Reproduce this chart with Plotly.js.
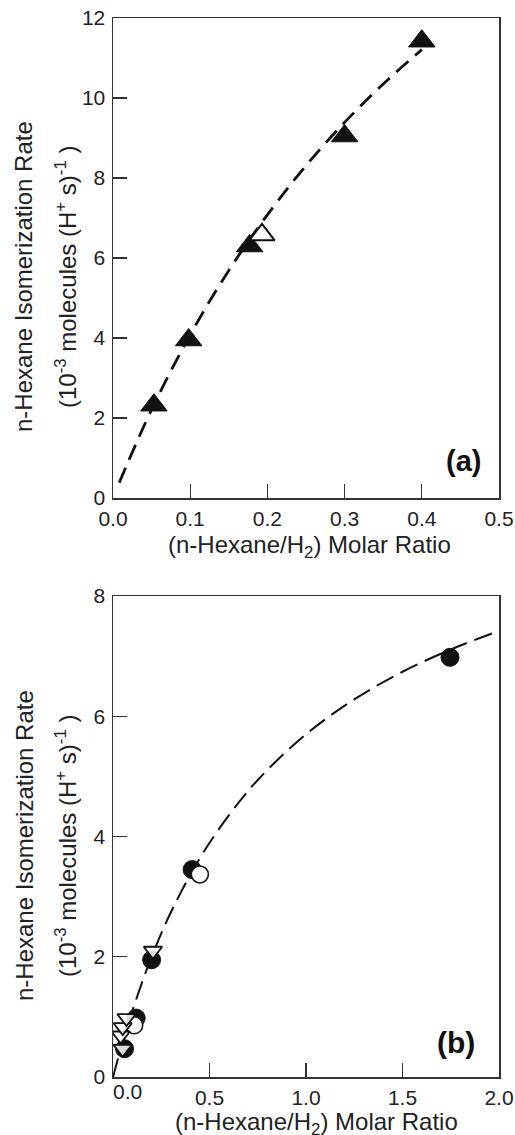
<!DOCTYPE html>
<html>
<head>
<meta charset="utf-8">
<script src="https://cdn.plot.ly/plotly-3.0.1.min.js"></script>
<style>
  html, body { margin: 0; padding: 0; background: #fff; }
  #chart { width: 515px; height: 1135px; }
</style>
</head>
<body>
<div id="chart"></div>
<script>
// ---------- Panel (a) data ----------
var aFilledX = [0.053, 0.098, 0.177, 0.300, 0.400];
var aFilledY = [2.32, 3.95, 6.30, 9.05, 11.42];
var aOpenX = [0.193];
var aOpenY = [6.58];
var aFitX = [0.008, 0.05, 0.10, 0.15, 0.20, 0.25, 0.30, 0.35, 0.40];
var aFitY = [0.38, 2.21, 4.08, 5.69, 7.08, 8.31, 9.39, 10.35, 11.21];
var aXTicks = [0.0, 0.1, 0.2, 0.3, 0.4, 0.5];
var aXTickText = ["0.0", "0.1", "0.2", "0.3", "0.4", "0.5"];
var aYTicks = [0, 2, 4, 6, 8, 10, 12];

// ---------- Panel (b) data ----------
var bFilledX = [0.06, 0.12, 0.20, 0.41, 1.746];
var bFilledY = [0.47, 0.98, 1.95, 3.45, 6.98];
var bOpenX = [0.11, 0.45];
var bOpenY = [0.86, 3.37];
var bTriX = [0.05, 0.04, 0.05, 0.07, 0.207];
var bTriY = [0.47, 0.69, 0.83, 0.98, 2.10];
var bFitX = [0.0, 0.05, 0.10, 0.20, 0.30, 0.45, 0.60, 0.75, 1.0, 1.25, 1.5, 1.75, 2.0];
var bFitY = [0.0, 0.58, 1.10, 2.00, 2.74, 3.64, 4.35, 4.94, 5.70, 6.28, 6.74, 7.11, 7.42];
var bXTicks = [0.0, 0.5, 1.0, 1.5, 2.0];
var bXTickText = ["0.0", "0.5", "1.0", "1.5", "2.0"];
var bYTicks = [0, 2, 4, 6, 8];

// ---------- Text ----------
var xTitle = "(n-Hexane/H<sub>2</sub>) Molar Ratio";
var yTitle1 = "n-Hexane Isomerization Rate";
var yTitle2 = "(10<sup>-3</sup> molecules (H<sup>+</sup> s)<sup>-1</sup> )";
var panelLabels = ["(a)", "(b)"];

var FONT = "Liberation Sans, Arial, Helvetica, sans-serif";
var AX = "#333333";
var TICKFONT = {family: FONT, size: 21, color: "#222"};

var traces = [
  // panel a
  {x: aFitX, y: aFitY, xaxis: "x", yaxis: "y", mode: "lines", line: {shape: "spline", color: "#111", width: 2.8, dash: "16px,9px"}, hoverinfo: "skip"},
  {x: aFilledX, y: aFilledY, xaxis: "x", yaxis: "y", mode: "markers", marker: {symbol: "triangle-up", size: 23, color: "#111", line: {color: "#111", width: 1}}},
  {x: aOpenX, y: aOpenY, xaxis: "x", yaxis: "y", mode: "markers", marker: {symbol: "triangle-up", size: 22, color: "#fff", line: {color: "#111", width: 2}}},
  // panel b
  {x: bFitX, y: bFitY, xaxis: "x2", yaxis: "y2", mode: "lines", line: {shape: "spline", color: "#111", width: 2, dash: "19px,8px"}, hoverinfo: "skip"},
  {x: bFilledX, y: bFilledY, xaxis: "x2", yaxis: "y2", mode: "markers", marker: {symbol: "circle", size: 18, color: "#111", line: {color: "#111", width: 1}}},
  {x: bOpenX, y: bOpenY, xaxis: "x2", yaxis: "y2", mode: "markers", marker: {symbol: "circle", size: 17, color: "#fff", line: {color: "#111", width: 1.5}}},
  {x: bTriX, y: bTriY, xaxis: "x2", yaxis: "y2", mode: "markers", marker: {symbol: "triangle-down", size: 16, color: "rgba(255,255,255,0.85)", line: {color: "#111", width: 1.8}}}
];

function xAxis(range, ticks, text, anchor) {
  return {
    domain: [113/515, 499/515], range: range, anchor: anchor,
    tickmode: "array", tickvals: ticks, ticktext: text,
    ticks: "inside", ticklen: 14, tickwidth: 1.3, tickcolor: AX,
    showline: true, linecolor: AX, linewidth: 1.5, mirror: true,
    showgrid: false, zeroline: false,
    tickfont: TICKFONT,
    ticklabelstandoff: 1
  };
}
function yAxis(range, ticks, dom, anchor) {
  return {
    domain: dom, range: range, anchor: anchor,
    tickmode: "array", tickvals: ticks,
    ticks: "inside", ticklen: 14, tickwidth: 1.3, tickcolor: AX,
    showline: true, linecolor: AX, linewidth: 1.5, mirror: true,
    showgrid: false, zeroline: false,
    tickfont: TICKFONT,
    ticklabelstandoff: 2
  };
}

function yPaper(px) { return (1135 - px) / 1135; }

var annotations = [];
var titleRows = [
  {yc: 277, xt: 546},   // panel a
  {yc: 846, xt: 1123}   // panel b
];
titleRows.forEach(function (r, i) {
  annotations.push({text: yTitle1, xref: "paper", yref: "paper", x: 24/515, y: yPaper(r.yc), textangle: -90,
    showarrow: false, xanchor: "center", yanchor: "middle", font: {family: FONT, size: 24, color: "#222"}});
  annotations.push({text: yTitle2, xref: "paper", yref: "paper", x: 66/515, y: yPaper(r.yc), textangle: -90,
    showarrow: false, xanchor: "center", yanchor: "middle", font: {family: FONT, size: 24, color: "#222"}});
  annotations.push({text: xTitle, xref: "paper", yref: "paper", x: (i === 0 ? 309 : 316)/515, y: yPaper(r.xt),
    showarrow: false, xanchor: "center", yanchor: "middle", font: {family: FONT, size: 24, color: "#222"}});
});
annotations.push({text: "<b>" + panelLabels[0] + "</b>", xref: "paper", yref: "paper", x: 463/515, y: yPaper(461),
  showarrow: false, xanchor: "center", yanchor: "middle", font: {family: FONT, size: 29, color: "#111"}});
annotations.push({text: "<b>" + panelLabels[1] + "</b>", xref: "paper", yref: "paper", x: 456/515, y: yPaper(1042),
  showarrow: false, xanchor: "center", yanchor: "middle", font: {family: FONT, size: 30, color: "#111"}});
// first tick label of panel (b) is drawn offset to the right, as in the original
annotations.push({text: bXTickText[0], xref: "x2", yref: "paper", x: bXTicks[0], xshift: 14, y: yPaper(1091),
  showarrow: false, xanchor: "center", yanchor: "middle", font: TICKFONT});

var bTickTextDrawn = bXTickText.map(function (t, i) { return i === 0 ? "" : t; });

var layout = {
  width: 515, height: 1135,
  margin: {l: 0, r: 0, t: 0, b: 0},
  paper_bgcolor: "#fff", plot_bgcolor: "#fff",
  showlegend: false,
  xaxis: xAxis([0, 0.5], aXTicks, aXTickText, "y"),
  yaxis: yAxis([0, 12], aYTicks, [yPaper(498), yPaper(18)], "x"),
  xaxis2: xAxis([0, 2.0], bXTicks, bTickTextDrawn, "y2"),
  yaxis2: yAxis([0, 8], bYTicks, [yPaper(1077), yPaper(596)], "x2"),
  annotations: annotations
};

Plotly.newPlot("chart", traces, layout, {staticPlot: true, displayModeBar: false});
</script>
</body>
</html>
